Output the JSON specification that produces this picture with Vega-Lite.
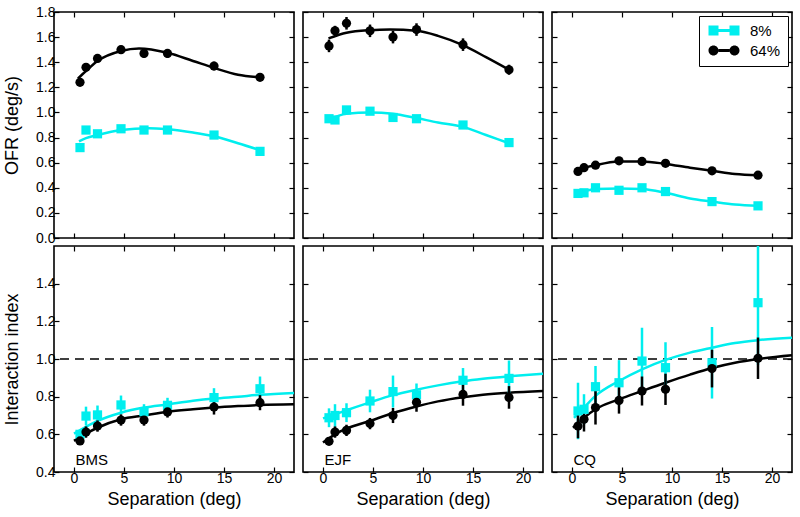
{
  "$schema": "https://vega.github.io/schema/vega-lite/v6.json",
  "padding": {"left": 2, "top": 4, "right": 2, "bottom": 4},
  "columns": 3,
  "spacing": {"row": 8, "column": 9},
  "bounds": "flush",
  "resolve": {"scale": {"color": "independent", "shape": "independent"}},
  "config": {
    "font": "Liberation Sans",
    "view": {"stroke": "black", "strokeWidth": 1.6},
    "axis": {"domain": false, "grid": false, "ticks": true, "tickColor": "black", "tickSize": -5, "tickWidth": 1.2, "labelFontSize": 14, "labelColor": "black", "labelFlush": false, "labelPadding": 4, "titleFontSize": 18, "titleFontWeight": "normal", "titleColor": "black", "titlePadding": 14},
    "axisX": {"titlePadding": 5}
  },
  "datasets": {
    "refline": [{"ref": 1.0}],
    "pts": [
      {"subject":"BMS","measure":"OFR","cond":"8%","sep":0.6,"val":0.72,"err":0.015},
      {"subject":"BMS","measure":"OFR","cond":"8%","sep":1.2,"val":0.86,"err":0.02},
      {"subject":"BMS","measure":"OFR","cond":"8%","sep":2.35,"val":0.83,"err":0.02},
      {"subject":"BMS","measure":"OFR","cond":"8%","sep":4.7,"val":0.87,"err":0.02},
      {"subject":"BMS","measure":"OFR","cond":"8%","sep":7.0,"val":0.86,"err":0.02},
      {"subject":"BMS","measure":"OFR","cond":"8%","sep":9.35,"val":0.86,"err":0.02},
      {"subject":"BMS","measure":"OFR","cond":"8%","sep":14.0,"val":0.82,"err":0.02},
      {"subject":"BMS","measure":"OFR","cond":"8%","sep":18.6,"val":0.69,"err":0.015},
      {"subject":"BMS","measure":"OFR","cond":"64%","sep":0.6,"val":1.24,"err":0.03},
      {"subject":"BMS","measure":"OFR","cond":"64%","sep":1.2,"val":1.36,"err":0.03},
      {"subject":"BMS","measure":"OFR","cond":"64%","sep":2.35,"val":1.43,"err":0.03},
      {"subject":"BMS","measure":"OFR","cond":"64%","sep":4.7,"val":1.5,"err":0.03},
      {"subject":"BMS","measure":"OFR","cond":"64%","sep":7.0,"val":1.47,"err":0.035},
      {"subject":"BMS","measure":"OFR","cond":"64%","sep":9.35,"val":1.47,"err":0.035},
      {"subject":"BMS","measure":"OFR","cond":"64%","sep":14.0,"val":1.37,"err":0.035},
      {"subject":"BMS","measure":"OFR","cond":"64%","sep":18.6,"val":1.28,"err":0.025},
      {"subject":"EJF","measure":"OFR","cond":"8%","sep":0.6,"val":0.95,"err":0.025},
      {"subject":"EJF","measure":"OFR","cond":"8%","sep":1.2,"val":0.94,"err":0.025},
      {"subject":"EJF","measure":"OFR","cond":"8%","sep":2.35,"val":1.02,"err":0.025},
      {"subject":"EJF","measure":"OFR","cond":"8%","sep":4.7,"val":1.01,"err":0.03},
      {"subject":"EJF","measure":"OFR","cond":"8%","sep":7.0,"val":0.96,"err":0.025},
      {"subject":"EJF","measure":"OFR","cond":"8%","sep":9.35,"val":0.95,"err":0.025},
      {"subject":"EJF","measure":"OFR","cond":"8%","sep":14.0,"val":0.9,"err":0.025},
      {"subject":"EJF","measure":"OFR","cond":"8%","sep":18.6,"val":0.76,"err":0.025},
      {"subject":"EJF","measure":"OFR","cond":"64%","sep":0.6,"val":1.53,"err":0.05},
      {"subject":"EJF","measure":"OFR","cond":"64%","sep":1.2,"val":1.65,"err":0.04},
      {"subject":"EJF","measure":"OFR","cond":"64%","sep":2.35,"val":1.71,"err":0.05},
      {"subject":"EJF","measure":"OFR","cond":"64%","sep":4.7,"val":1.65,"err":0.05},
      {"subject":"EJF","measure":"OFR","cond":"64%","sep":7.0,"val":1.6,"err":0.05},
      {"subject":"EJF","measure":"OFR","cond":"64%","sep":9.35,"val":1.66,"err":0.05},
      {"subject":"EJF","measure":"OFR","cond":"64%","sep":14.0,"val":1.54,"err":0.05},
      {"subject":"EJF","measure":"OFR","cond":"64%","sep":18.6,"val":1.34,"err":0.04},
      {"subject":"CQ","measure":"OFR","cond":"8%","sep":0.6,"val":0.355,"err":0.01},
      {"subject":"CQ","measure":"OFR","cond":"8%","sep":1.2,"val":0.36,"err":0.01},
      {"subject":"CQ","measure":"OFR","cond":"8%","sep":2.35,"val":0.4,"err":0.01},
      {"subject":"CQ","measure":"OFR","cond":"8%","sep":4.7,"val":0.38,"err":0.01},
      {"subject":"CQ","measure":"OFR","cond":"8%","sep":7.0,"val":0.4,"err":0.01},
      {"subject":"CQ","measure":"OFR","cond":"8%","sep":9.35,"val":0.37,"err":0.01},
      {"subject":"CQ","measure":"OFR","cond":"8%","sep":14.0,"val":0.29,"err":0.01},
      {"subject":"CQ","measure":"OFR","cond":"8%","sep":18.6,"val":0.256,"err":0.01},
      {"subject":"CQ","measure":"OFR","cond":"64%","sep":0.6,"val":0.53,"err":0.01},
      {"subject":"CQ","measure":"OFR","cond":"64%","sep":1.2,"val":0.56,"err":0.01},
      {"subject":"CQ","measure":"OFR","cond":"64%","sep":2.35,"val":0.58,"err":0.01},
      {"subject":"CQ","measure":"OFR","cond":"64%","sep":4.7,"val":0.615,"err":0.01},
      {"subject":"CQ","measure":"OFR","cond":"64%","sep":7.0,"val":0.61,"err":0.01},
      {"subject":"CQ","measure":"OFR","cond":"64%","sep":9.35,"val":0.595,"err":0.01},
      {"subject":"CQ","measure":"OFR","cond":"64%","sep":14.0,"val":0.535,"err":0.01},
      {"subject":"CQ","measure":"OFR","cond":"64%","sep":18.6,"val":0.5,"err":0.01},
      {"subject":"BMS","measure":"II","cond":"8%","sep":0.6,"val":0.6,"err":0.02},
      {"subject":"BMS","measure":"II","cond":"8%","sep":1.2,"val":0.697,"err":0.05},
      {"subject":"BMS","measure":"II","cond":"8%","sep":2.35,"val":0.703,"err":0.05},
      {"subject":"BMS","measure":"II","cond":"8%","sep":4.7,"val":0.756,"err":0.05},
      {"subject":"BMS","measure":"II","cond":"8%","sep":7.0,"val":0.72,"err":0.04},
      {"subject":"BMS","measure":"II","cond":"8%","sep":9.35,"val":0.754,"err":0.04},
      {"subject":"BMS","measure":"II","cond":"8%","sep":14.0,"val":0.795,"err":0.05},
      {"subject":"BMS","measure":"II","cond":"8%","sep":18.6,"val":0.842,"err":0.065},
      {"subject":"BMS","measure":"II","cond":"64%","sep":0.6,"val":0.565,"err":0.02},
      {"subject":"BMS","measure":"II","cond":"64%","sep":1.2,"val":0.612,"err":0.03},
      {"subject":"BMS","measure":"II","cond":"64%","sep":2.35,"val":0.644,"err":0.03},
      {"subject":"BMS","measure":"II","cond":"64%","sep":4.7,"val":0.676,"err":0.03},
      {"subject":"BMS","measure":"II","cond":"64%","sep":7.0,"val":0.676,"err":0.03},
      {"subject":"BMS","measure":"II","cond":"64%","sep":9.35,"val":0.719,"err":0.03},
      {"subject":"BMS","measure":"II","cond":"64%","sep":14.0,"val":0.745,"err":0.04},
      {"subject":"BMS","measure":"II","cond":"64%","sep":18.6,"val":0.768,"err":0.04},
      {"subject":"EJF","measure":"II","cond":"8%","sep":0.6,"val":0.688,"err":0.05},
      {"subject":"EJF","measure":"II","cond":"8%","sep":1.2,"val":0.7,"err":0.06},
      {"subject":"EJF","measure":"II","cond":"8%","sep":2.35,"val":0.715,"err":0.05},
      {"subject":"EJF","measure":"II","cond":"8%","sep":4.7,"val":0.777,"err":0.06},
      {"subject":"EJF","measure":"II","cond":"8%","sep":7.0,"val":0.827,"err":0.085},
      {"subject":"EJF","measure":"II","cond":"8%","sep":9.35,"val":0.81,"err":0.06},
      {"subject":"EJF","measure":"II","cond":"8%","sep":14.0,"val":0.887,"err":0.065},
      {"subject":"EJF","measure":"II","cond":"8%","sep":18.6,"val":0.897,"err":0.095},
      {"subject":"EJF","measure":"II","cond":"64%","sep":0.6,"val":0.563,"err":0.02},
      {"subject":"EJF","measure":"II","cond":"64%","sep":1.2,"val":0.612,"err":0.03},
      {"subject":"EJF","measure":"II","cond":"64%","sep":2.35,"val":0.621,"err":0.03},
      {"subject":"EJF","measure":"II","cond":"64%","sep":4.7,"val":0.657,"err":0.03},
      {"subject":"EJF","measure":"II","cond":"64%","sep":7.0,"val":0.7,"err":0.04},
      {"subject":"EJF","measure":"II","cond":"64%","sep":9.35,"val":0.77,"err":0.05},
      {"subject":"EJF","measure":"II","cond":"64%","sep":14.0,"val":0.812,"err":0.06},
      {"subject":"EJF","measure":"II","cond":"64%","sep":18.6,"val":0.796,"err":0.06},
      {"subject":"CQ","measure":"II","cond":"8%","sep":0.6,"val":0.724,"err":0.15},
      {"subject":"CQ","measure":"II","cond":"8%","sep":1.2,"val":0.733,"err":0.08},
      {"subject":"CQ","measure":"II","cond":"8%","sep":2.35,"val":0.853,"err":0.11},
      {"subject":"CQ","measure":"II","cond":"8%","sep":4.7,"val":0.874,"err":0.12},
      {"subject":"CQ","measure":"II","cond":"8%","sep":7.0,"val":0.989,"err":0.177},
      {"subject":"CQ","measure":"II","cond":"8%","sep":9.35,"val":0.954,"err":0.135},
      {"subject":"CQ","measure":"II","cond":"8%","sep":14.0,"val":0.98,"err":0.19},
      {"subject":"CQ","measure":"II","cond":"8%","sep":18.6,"val":1.299,"err":0.33},
      {"subject":"CQ","measure":"II","cond":"64%","sep":0.6,"val":0.644,"err":0.065},
      {"subject":"CQ","measure":"II","cond":"64%","sep":1.2,"val":0.68,"err":0.065},
      {"subject":"CQ","measure":"II","cond":"64%","sep":2.35,"val":0.742,"err":0.09},
      {"subject":"CQ","measure":"II","cond":"64%","sep":4.7,"val":0.78,"err":0.07},
      {"subject":"CQ","measure":"II","cond":"64%","sep":7.0,"val":0.83,"err":0.077},
      {"subject":"CQ","measure":"II","cond":"64%","sep":9.35,"val":0.839,"err":0.083},
      {"subject":"CQ","measure":"II","cond":"64%","sep":14.0,"val":0.949,"err":0.1},
      {"subject":"CQ","measure":"II","cond":"64%","sep":18.6,"val":1.004,"err":0.11}
    ],
    "curves": [
      {"subject":"BMS","measure":"OFR","cond":"8%","sep":0.5,"val":0.77},
      {"subject":"BMS","measure":"OFR","cond":"8%","sep":1.2,"val":0.795},
      {"subject":"BMS","measure":"OFR","cond":"8%","sep":2.35,"val":0.82},
      {"subject":"BMS","measure":"OFR","cond":"8%","sep":4.7,"val":0.86},
      {"subject":"BMS","measure":"OFR","cond":"8%","sep":7.5,"val":0.875},
      {"subject":"BMS","measure":"OFR","cond":"8%","sep":9.35,"val":0.866},
      {"subject":"BMS","measure":"OFR","cond":"8%","sep":11.9,"val":0.84},
      {"subject":"BMS","measure":"OFR","cond":"8%","sep":14.0,"val":0.81},
      {"subject":"BMS","measure":"OFR","cond":"8%","sep":16.4,"val":0.755},
      {"subject":"BMS","measure":"OFR","cond":"8%","sep":18.6,"val":0.7},
      {"subject":"BMS","measure":"OFR","cond":"64%","sep":0.4,"val":1.27},
      {"subject":"BMS","measure":"OFR","cond":"64%","sep":1.2,"val":1.33},
      {"subject":"BMS","measure":"OFR","cond":"64%","sep":2.35,"val":1.41},
      {"subject":"BMS","measure":"OFR","cond":"64%","sep":4.7,"val":1.49},
      {"subject":"BMS","measure":"OFR","cond":"64%","sep":6.5,"val":1.51},
      {"subject":"BMS","measure":"OFR","cond":"64%","sep":9.35,"val":1.475},
      {"subject":"BMS","measure":"OFR","cond":"64%","sep":11.9,"val":1.41},
      {"subject":"BMS","measure":"OFR","cond":"64%","sep":14.0,"val":1.355},
      {"subject":"BMS","measure":"OFR","cond":"64%","sep":16.4,"val":1.3},
      {"subject":"BMS","measure":"OFR","cond":"64%","sep":18.6,"val":1.28},
      {"subject":"EJF","measure":"OFR","cond":"8%","sep":0.55,"val":0.94},
      {"subject":"EJF","measure":"OFR","cond":"8%","sep":2.35,"val":0.99},
      {"subject":"EJF","measure":"OFR","cond":"8%","sep":4.7,"val":1.0},
      {"subject":"EJF","measure":"OFR","cond":"8%","sep":7.0,"val":0.99},
      {"subject":"EJF","measure":"OFR","cond":"8%","sep":9.35,"val":0.955},
      {"subject":"EJF","measure":"OFR","cond":"8%","sep":11.5,"val":0.92},
      {"subject":"EJF","measure":"OFR","cond":"8%","sep":14.0,"val":0.885},
      {"subject":"EJF","measure":"OFR","cond":"8%","sep":16.3,"val":0.82},
      {"subject":"EJF","measure":"OFR","cond":"8%","sep":18.6,"val":0.755},
      {"subject":"EJF","measure":"OFR","cond":"64%","sep":0.55,"val":1.59},
      {"subject":"EJF","measure":"OFR","cond":"64%","sep":2.35,"val":1.635},
      {"subject":"EJF","measure":"OFR","cond":"64%","sep":4.7,"val":1.655},
      {"subject":"EJF","measure":"OFR","cond":"64%","sep":6.7,"val":1.66},
      {"subject":"EJF","measure":"OFR","cond":"64%","sep":9.35,"val":1.65},
      {"subject":"EJF","measure":"OFR","cond":"64%","sep":11.5,"val":1.61},
      {"subject":"EJF","measure":"OFR","cond":"64%","sep":14.0,"val":1.536},
      {"subject":"EJF","measure":"OFR","cond":"64%","sep":16.3,"val":1.44},
      {"subject":"EJF","measure":"OFR","cond":"64%","sep":18.6,"val":1.34},
      {"subject":"CQ","measure":"OFR","cond":"8%","sep":0.6,"val":0.355},
      {"subject":"CQ","measure":"OFR","cond":"8%","sep":2.35,"val":0.39},
      {"subject":"CQ","measure":"OFR","cond":"8%","sep":4.7,"val":0.395},
      {"subject":"CQ","measure":"OFR","cond":"8%","sep":7.0,"val":0.39},
      {"subject":"CQ","measure":"OFR","cond":"8%","sep":9.35,"val":0.36},
      {"subject":"CQ","measure":"OFR","cond":"8%","sep":11.8,"val":0.315},
      {"subject":"CQ","measure":"OFR","cond":"8%","sep":14.0,"val":0.29},
      {"subject":"CQ","measure":"OFR","cond":"8%","sep":16.3,"val":0.266},
      {"subject":"CQ","measure":"OFR","cond":"8%","sep":18.6,"val":0.256},
      {"subject":"CQ","measure":"OFR","cond":"64%","sep":0.6,"val":0.53},
      {"subject":"CQ","measure":"OFR","cond":"64%","sep":1.2,"val":0.556},
      {"subject":"CQ","measure":"OFR","cond":"64%","sep":2.35,"val":0.58},
      {"subject":"CQ","measure":"OFR","cond":"64%","sep":4.7,"val":0.61},
      {"subject":"CQ","measure":"OFR","cond":"64%","sep":7.0,"val":0.61},
      {"subject":"CQ","measure":"OFR","cond":"64%","sep":9.35,"val":0.59},
      {"subject":"CQ","measure":"OFR","cond":"64%","sep":11.8,"val":0.56},
      {"subject":"CQ","measure":"OFR","cond":"64%","sep":14.0,"val":0.536},
      {"subject":"CQ","measure":"OFR","cond":"64%","sep":16.3,"val":0.51},
      {"subject":"CQ","measure":"OFR","cond":"64%","sep":18.6,"val":0.5},
      {"subject":"BMS","measure":"II","cond":"8%","sep":0.0,"val":0.604},
      {"subject":"BMS","measure":"II","cond":"8%","sep":1.2,"val":0.64},
      {"subject":"BMS","measure":"II","cond":"8%","sep":2.35,"val":0.671},
      {"subject":"BMS","measure":"II","cond":"8%","sep":4.7,"val":0.715},
      {"subject":"BMS","measure":"II","cond":"8%","sep":7.0,"val":0.742},
      {"subject":"BMS","measure":"II","cond":"8%","sep":9.35,"val":0.759},
      {"subject":"BMS","measure":"II","cond":"8%","sep":11.9,"val":0.778},
      {"subject":"BMS","measure":"II","cond":"8%","sep":14.0,"val":0.79},
      {"subject":"BMS","measure":"II","cond":"8%","sep":16.4,"val":0.8},
      {"subject":"BMS","measure":"II","cond":"8%","sep":18.6,"val":0.81},
      {"subject":"BMS","measure":"II","cond":"8%","sep":22.0,"val":0.82},
      {"subject":"BMS","measure":"II","cond":"64%","sep":0.0,"val":0.565},
      {"subject":"BMS","measure":"II","cond":"64%","sep":1.2,"val":0.604},
      {"subject":"BMS","measure":"II","cond":"64%","sep":2.35,"val":0.635},
      {"subject":"BMS","measure":"II","cond":"64%","sep":4.7,"val":0.68},
      {"subject":"BMS","measure":"II","cond":"64%","sep":7.0,"val":0.7},
      {"subject":"BMS","measure":"II","cond":"64%","sep":9.35,"val":0.72},
      {"subject":"BMS","measure":"II","cond":"64%","sep":11.9,"val":0.733},
      {"subject":"BMS","measure":"II","cond":"64%","sep":14.0,"val":0.742},
      {"subject":"BMS","measure":"II","cond":"64%","sep":16.4,"val":0.75},
      {"subject":"BMS","measure":"II","cond":"64%","sep":18.6,"val":0.756},
      {"subject":"BMS","measure":"II","cond":"64%","sep":22.0,"val":0.76},
      {"subject":"EJF","measure":"II","cond":"8%","sep":0.0,"val":0.685},
      {"subject":"EJF","measure":"II","cond":"8%","sep":1.2,"val":0.706},
      {"subject":"EJF","measure":"II","cond":"8%","sep":2.35,"val":0.728},
      {"subject":"EJF","measure":"II","cond":"8%","sep":4.7,"val":0.77},
      {"subject":"EJF","measure":"II","cond":"8%","sep":7.0,"val":0.808},
      {"subject":"EJF","measure":"II","cond":"8%","sep":9.35,"val":0.837},
      {"subject":"EJF","measure":"II","cond":"8%","sep":11.5,"val":0.86},
      {"subject":"EJF","measure":"II","cond":"8%","sep":14.0,"val":0.882},
      {"subject":"EJF","measure":"II","cond":"8%","sep":16.0,"val":0.895},
      {"subject":"EJF","measure":"II","cond":"8%","sep":18.6,"val":0.908},
      {"subject":"EJF","measure":"II","cond":"8%","sep":22.0,"val":0.922},
      {"subject":"EJF","measure":"II","cond":"64%","sep":0.0,"val":0.556},
      {"subject":"EJF","measure":"II","cond":"64%","sep":1.2,"val":0.6},
      {"subject":"EJF","measure":"II","cond":"64%","sep":2.35,"val":0.63},
      {"subject":"EJF","measure":"II","cond":"64%","sep":4.7,"val":0.671},
      {"subject":"EJF","measure":"II","cond":"64%","sep":7.0,"val":0.713},
      {"subject":"EJF","measure":"II","cond":"64%","sep":9.35,"val":0.748},
      {"subject":"EJF","measure":"II","cond":"64%","sep":11.5,"val":0.775},
      {"subject":"EJF","measure":"II","cond":"64%","sep":14.0,"val":0.797},
      {"subject":"EJF","measure":"II","cond":"64%","sep":16.0,"val":0.81},
      {"subject":"EJF","measure":"II","cond":"64%","sep":18.6,"val":0.821},
      {"subject":"EJF","measure":"II","cond":"64%","sep":22.0,"val":0.83},
      {"subject":"CQ","measure":"II","cond":"8%","sep":0.2,"val":0.688},
      {"subject":"CQ","measure":"II","cond":"8%","sep":1.2,"val":0.742},
      {"subject":"CQ","measure":"II","cond":"8%","sep":2.35,"val":0.804},
      {"subject":"CQ","measure":"II","cond":"8%","sep":4.7,"val":0.883},
      {"subject":"CQ","measure":"II","cond":"8%","sep":7.0,"val":0.945},
      {"subject":"CQ","measure":"II","cond":"8%","sep":9.35,"val":0.995},
      {"subject":"CQ","measure":"II","cond":"8%","sep":11.8,"val":1.034},
      {"subject":"CQ","measure":"II","cond":"8%","sep":14.0,"val":1.06},
      {"subject":"CQ","measure":"II","cond":"8%","sep":16.3,"val":1.085},
      {"subject":"CQ","measure":"II","cond":"8%","sep":18.6,"val":1.1},
      {"subject":"CQ","measure":"II","cond":"8%","sep":22.0,"val":1.113},
      {"subject":"CQ","measure":"II","cond":"64%","sep":0.1,"val":0.635},
      {"subject":"CQ","measure":"II","cond":"64%","sep":1.2,"val":0.688},
      {"subject":"CQ","measure":"II","cond":"64%","sep":2.35,"val":0.733},
      {"subject":"CQ","measure":"II","cond":"64%","sep":4.7,"val":0.786},
      {"subject":"CQ","measure":"II","cond":"64%","sep":7.0,"val":0.83},
      {"subject":"CQ","measure":"II","cond":"64%","sep":9.35,"val":0.874},
      {"subject":"CQ","measure":"II","cond":"64%","sep":11.8,"val":0.917},
      {"subject":"CQ","measure":"II","cond":"64%","sep":14.0,"val":0.952},
      {"subject":"CQ","measure":"II","cond":"64%","sep":16.3,"val":0.98},
      {"subject":"CQ","measure":"II","cond":"64%","sep":18.6,"val":1.0},
      {"subject":"CQ","measure":"II","cond":"64%","sep":22.0,"val":1.02}
    ]
  },
  "concat": [
    {
      "width": 240, "height": 226,
      "resolve": {"axis": {"x": "independent", "y": "independent"}},
      "layer": [
        {"data": {"name": "curves"}, "transform": [{"filter": "datum.subject == 'BMS' && datum.measure == 'OFR'"}],
         "mark": {"type": "line", "strokeWidth": 2.5, "interpolate": "monotone"},
         "encoding": {
           "x": {"field": "sep", "type": "quantitative", "scale": {"domain": [-1, 22]}, "axis": {"orient": "bottom", "values": [0,5,10,15,20], "labels": false, "title": null}},
           "y": {"field": "val", "type": "quantitative", "scale": {"domain": [0, 1.8]}, "axis": {"orient": "left", "values": [0,0.2,0.4,0.6,0.8,1,1.2,1.4,1.6,1.8], "format": ".1f", "title": "OFR (deg/s)"}},
           "color": {"field": "cond", "type": "nominal", "scale": {"domain": ["8%","64%"], "range": ["#00EEEE","black"]}, "legend": null}}},
        {"data": {"name": "pts"}, "transform": [{"filter": "datum.subject == 'BMS' && datum.measure == 'OFR'"}],
         "mark": {"type": "errorbar", "thickness": 2.5, "clip": true},
         "encoding": {
           "x": {"field": "sep", "type": "quantitative", "axis": null},
           "y": {"field": "val", "type": "quantitative", "axis": null},
           "yError": {"field": "err"},
           "color": {"field": "cond", "type": "nominal", "scale": {"domain": ["8%","64%"], "range": ["#00EEEE","black"]}, "legend": null}}},
        {"data": {"name": "pts"}, "transform": [{"filter": "datum.subject == 'BMS' && datum.measure == 'OFR'"}],
         "mark": {"type": "point", "filled": true, "size": 85, "opacity": 1, "strokeWidth": 0},
         "encoding": {
           "x": {"field": "sep", "type": "quantitative", "axis": {"orient": "top", "values": [0,5,10,15,20], "labels": false, "title": null}},
           "y": {"field": "val", "type": "quantitative", "axis": {"orient": "right", "values": [0,0.2,0.4,0.6,0.8,1,1.2,1.4,1.6,1.8], "labels": false, "title": null}},
           "color": {"field": "cond", "type": "nominal", "scale": {"domain": ["8%","64%"], "range": ["#00EEEE","black"]}, "legend": null},
           "shape": {"field": "cond", "type": "nominal", "scale": {"domain": ["8%","64%"], "range": ["square","circle"]}, "legend": null}}}
      ]
    },
    {
      "width": 240, "height": 226,
      "resolve": {"axis": {"x": "independent", "y": "independent"}},
      "layer": [
        {"data": {"name": "curves"}, "transform": [{"filter": "datum.subject == 'EJF' && datum.measure == 'OFR'"}],
         "mark": {"type": "line", "strokeWidth": 2.5, "interpolate": "monotone"},
         "encoding": {
           "x": {"field": "sep", "type": "quantitative", "scale": {"domain": [-1, 22]}, "axis": {"orient": "bottom", "values": [0,5,10,15,20], "labels": false, "title": null}},
           "y": {"field": "val", "type": "quantitative", "scale": {"domain": [0, 1.8]}, "axis": {"orient": "left", "values": [0,0.2,0.4,0.6,0.8,1,1.2,1.4,1.6,1.8], "labels": false, "title": null}},
           "color": {"field": "cond", "type": "nominal", "scale": {"domain": ["8%","64%"], "range": ["#00EEEE","black"]}, "legend": null}}},
        {"data": {"name": "pts"}, "transform": [{"filter": "datum.subject == 'EJF' && datum.measure == 'OFR'"}],
         "mark": {"type": "errorbar", "thickness": 2.5, "clip": true},
         "encoding": {
           "x": {"field": "sep", "type": "quantitative", "axis": null},
           "y": {"field": "val", "type": "quantitative", "axis": null},
           "yError": {"field": "err"},
           "color": {"field": "cond", "type": "nominal", "scale": {"domain": ["8%","64%"], "range": ["#00EEEE","black"]}, "legend": null}}},
        {"data": {"name": "pts"}, "transform": [{"filter": "datum.subject == 'EJF' && datum.measure == 'OFR'"}],
         "mark": {"type": "point", "filled": true, "size": 85, "opacity": 1, "strokeWidth": 0},
         "encoding": {
           "x": {"field": "sep", "type": "quantitative", "axis": {"orient": "top", "values": [0,5,10,15,20], "labels": false, "title": null}},
           "y": {"field": "val", "type": "quantitative", "axis": {"orient": "right", "values": [0,0.2,0.4,0.6,0.8,1,1.2,1.4,1.6,1.8], "labels": false, "title": null}},
           "color": {"field": "cond", "type": "nominal", "scale": {"domain": ["8%","64%"], "range": ["#00EEEE","black"]}, "legend": null},
           "shape": {"field": "cond", "type": "nominal", "scale": {"domain": ["8%","64%"], "range": ["square","circle"]}, "legend": null}}}
      ]
    },
    {
      "width": 240, "height": 226,
      "resolve": {"axis": {"x": "independent", "y": "independent"}, "scale": {"color": "independent", "shape": "independent"}},
      "layer": [
        {"data": {"name": "curves"}, "transform": [{"filter": "datum.subject == 'CQ' && datum.measure == 'OFR'"}],
         "mark": {"type": "line", "strokeWidth": 2.5, "interpolate": "monotone"},
         "encoding": {
           "x": {"field": "sep", "type": "quantitative", "scale": {"domain": [-1, 22]}, "axis": {"orient": "bottom", "values": [0,5,10,15,20], "labels": false, "title": null}},
           "y": {"field": "val", "type": "quantitative", "scale": {"domain": [0, 1.8]}, "axis": {"orient": "left", "values": [0,0.2,0.4,0.6,0.8,1,1.2,1.4,1.6,1.8], "labels": false, "title": null}},
           "color": {"field": "cond", "type": "nominal", "scale": {"domain": ["8%","64%"], "range": ["#00EEEE","black"]}, "legend": null}}},
        {"data": {"name": "pts"}, "transform": [{"filter": "datum.subject == 'CQ' && datum.measure == 'OFR'"}],
         "mark": {"type": "errorbar", "thickness": 2.5, "clip": true},
         "encoding": {
           "x": {"field": "sep", "type": "quantitative", "axis": null},
           "y": {"field": "val", "type": "quantitative", "axis": null},
           "yError": {"field": "err"},
           "color": {"field": "cond", "type": "nominal", "scale": {"domain": ["8%","64%"], "range": ["#00EEEE","black"]}, "legend": null}}},
        {"data": {"name": "pts"}, "transform": [{"filter": "datum.subject == 'CQ' && datum.measure == 'OFR'"}],
         "mark": {"type": "point", "filled": true, "size": 85, "opacity": 1, "strokeWidth": 0},
         "encoding": {
           "x": {"field": "sep", "type": "quantitative", "axis": {"orient": "top", "values": [0,5,10,15,20], "labels": false, "title": null}},
           "y": {"field": "val", "type": "quantitative", "axis": {"orient": "right", "values": [0,0.2,0.4,0.6,0.8,1,1.2,1.4,1.6,1.8], "labels": false, "title": null}},
           "color": {"field": "cond", "type": "nominal", "scale": {"domain": ["8%","64%"], "range": ["#00EEEE","black"]}, "legend": null},
           "shape": {"field": "cond", "type": "nominal", "scale": {"domain": ["8%","64%"], "range": ["square","circle"]}, "legend": null}}},
        {"data": {"name": "pts"}, "transform": [{"filter": "datum.sep < -50"}],
         "mark": {"type": "point", "filled": true, "opacity": 1},
         "encoding": {
           "x": {"field": "sep", "type": "quantitative", "axis": null},
           "y": {"field": "val", "type": "quantitative", "axis": null},
           "color": {"field": "cond", "type": "nominal", "scale": {"domain": ["8%","64%"], "range": ["#00EEEE","black"]},
             "legend": {"title": null, "orient": "top-right", "offset": 4, "padding": 7, "strokeColor": "black", "fillColor": "white", "labelFontSize": 15, "labelColor": "black", "symbolSize": 100, "labelOffset": 29, "rowPadding": 4, "symbolStrokeWidth": 0}},
           "shape": {"field": "cond", "type": "nominal", "scale": {"domain": ["8%","64%"], "range": ["M-1,-1H1V1H-1Z M3.2,-1H5.2V1H3.2Z M1,-0.3H3.2V0.3H1Z", "M1,0A1,1 0 1,1 -1,0A1,1 0 1,1 1,0Z M5.2,0A1,1 0 1,1 3.2,0A1,1 0 1,1 5.2,0Z M1,-0.3H3.2V0.3H1Z"]},
             "legend": {"title": null, "orient": "top-right", "offset": 4, "padding": 7, "strokeColor": "black", "fillColor": "white", "labelFontSize": 15, "labelColor": "black", "symbolSize": 100, "labelOffset": 29, "rowPadding": 4, "symbolStrokeWidth": 0}}}}
      ]
    },
    {
      "width": 240, "height": 226,
      "resolve": {"axis": {"x": "independent", "y": "independent"}},
      "layer": [
        {"data": {"name": "refline"},
         "mark": {"type": "rule", "strokeDash": [9, 6], "strokeWidth": 1.5, "color": "black"},
         "encoding": {"y": {"field": "ref", "type": "quantitative", "scale": {"domain": [0.4, 1.6], "zero": false}, "axis": null}}},
        {"data": {"name": "curves"}, "transform": [{"filter": "datum.subject == 'BMS' && datum.measure == 'II'"}],
         "mark": {"type": "line", "strokeWidth": 2.5, "interpolate": "monotone"},
         "encoding": {
           "x": {"field": "sep", "type": "quantitative", "scale": {"domain": [-1, 22]}, "axis": {"orient": "bottom", "values": [0,5,10,15,20], "title": "Separation (deg)"}},
           "y": {"field": "val", "type": "quantitative", "scale": {"domain": [0.4, 1.6], "zero": false}, "axis": {"orient": "left", "values": [0.4,0.6,0.8,1,1.2,1.4], "format": ".1f", "title": "Interaction index"}},
           "color": {"field": "cond", "type": "nominal", "scale": {"domain": ["8%","64%"], "range": ["#00EEEE","black"]}, "legend": null}}},
        {"data": {"name": "pts"}, "transform": [{"filter": "datum.subject == 'BMS' && datum.measure == 'II'"}],
         "mark": {"type": "errorbar", "thickness": 2.5, "clip": true},
         "encoding": {
           "x": {"field": "sep", "type": "quantitative", "axis": null},
           "y": {"field": "val", "type": "quantitative", "axis": null},
           "yError": {"field": "err"},
           "color": {"field": "cond", "type": "nominal", "scale": {"domain": ["8%","64%"], "range": ["#00EEEE","black"]}, "legend": null}}},
        {"data": {"name": "pts"}, "transform": [{"filter": "datum.subject == 'BMS' && datum.measure == 'II'"}],
         "mark": {"type": "point", "filled": true, "size": 85, "opacity": 1, "strokeWidth": 0},
         "encoding": {
           "x": {"field": "sep", "type": "quantitative", "axis": {"orient": "top", "values": [0,5,10,15,20], "labels": false, "title": null}},
           "y": {"field": "val", "type": "quantitative", "axis": {"orient": "right", "values": [0.4,0.6,0.8,1,1.2,1.4], "labels": false, "title": null}},
           "color": {"field": "cond", "type": "nominal", "scale": {"domain": ["8%","64%"], "range": ["#00EEEE","black"]}, "legend": null},
           "shape": {"field": "cond", "type": "nominal", "scale": {"domain": ["8%","64%"], "range": ["square","circle"]}, "legend": null}}},
        {"data": {"values": [{"label": "BMS"}]},
         "mark": {"type": "text", "align": "left", "baseline": "alphabetic", "fontSize": 15, "color": "black"},
         "encoding": {"x": {"datum": 0.15, "type": "quantitative", "axis": null}, "y": {"datum": 0.437, "type": "quantitative", "axis": null}, "text": {"field": "label"}}}
      ]
    },
    {
      "width": 240, "height": 226,
      "resolve": {"axis": {"x": "independent", "y": "independent"}},
      "layer": [
        {"data": {"name": "refline"},
         "mark": {"type": "rule", "strokeDash": [9, 6], "strokeWidth": 1.5, "color": "black"},
         "encoding": {"y": {"field": "ref", "type": "quantitative", "scale": {"domain": [0.4, 1.6], "zero": false}, "axis": null}}},
        {"data": {"name": "curves"}, "transform": [{"filter": "datum.subject == 'EJF' && datum.measure == 'II'"}],
         "mark": {"type": "line", "strokeWidth": 2.5, "interpolate": "monotone"},
         "encoding": {
           "x": {"field": "sep", "type": "quantitative", "scale": {"domain": [-1, 22]}, "axis": {"orient": "bottom", "values": [0,5,10,15,20], "title": "Separation (deg)"}},
           "y": {"field": "val", "type": "quantitative", "scale": {"domain": [0.4, 1.6], "zero": false}, "axis": {"orient": "left", "values": [0.4,0.6,0.8,1,1.2,1.4], "labels": false, "title": null}},
           "color": {"field": "cond", "type": "nominal", "scale": {"domain": ["8%","64%"], "range": ["#00EEEE","black"]}, "legend": null}}},
        {"data": {"name": "pts"}, "transform": [{"filter": "datum.subject == 'EJF' && datum.measure == 'II'"}],
         "mark": {"type": "errorbar", "thickness": 2.5, "clip": true},
         "encoding": {
           "x": {"field": "sep", "type": "quantitative", "axis": null},
           "y": {"field": "val", "type": "quantitative", "axis": null},
           "yError": {"field": "err"},
           "color": {"field": "cond", "type": "nominal", "scale": {"domain": ["8%","64%"], "range": ["#00EEEE","black"]}, "legend": null}}},
        {"data": {"name": "pts"}, "transform": [{"filter": "datum.subject == 'EJF' && datum.measure == 'II'"}],
         "mark": {"type": "point", "filled": true, "size": 85, "opacity": 1, "strokeWidth": 0},
         "encoding": {
           "x": {"field": "sep", "type": "quantitative", "axis": {"orient": "top", "values": [0,5,10,15,20], "labels": false, "title": null}},
           "y": {"field": "val", "type": "quantitative", "axis": {"orient": "right", "values": [0.4,0.6,0.8,1,1.2,1.4], "labels": false, "title": null}},
           "color": {"field": "cond", "type": "nominal", "scale": {"domain": ["8%","64%"], "range": ["#00EEEE","black"]}, "legend": null},
           "shape": {"field": "cond", "type": "nominal", "scale": {"domain": ["8%","64%"], "range": ["square","circle"]}, "legend": null}}},
        {"data": {"values": [{"label": "EJF"}]},
         "mark": {"type": "text", "align": "left", "baseline": "alphabetic", "fontSize": 15, "color": "black"},
         "encoding": {"x": {"datum": 0.15, "type": "quantitative", "axis": null}, "y": {"datum": 0.437, "type": "quantitative", "axis": null}, "text": {"field": "label"}}}
      ]
    },
    {
      "width": 240, "height": 226,
      "resolve": {"axis": {"x": "independent", "y": "independent"}},
      "layer": [
        {"data": {"name": "refline"},
         "mark": {"type": "rule", "strokeDash": [9, 6], "strokeWidth": 1.5, "color": "black"},
         "encoding": {"y": {"field": "ref", "type": "quantitative", "scale": {"domain": [0.4, 1.6], "zero": false}, "axis": null}}},
        {"data": {"name": "curves"}, "transform": [{"filter": "datum.subject == 'CQ' && datum.measure == 'II'"}],
         "mark": {"type": "line", "strokeWidth": 2.5, "interpolate": "monotone"},
         "encoding": {
           "x": {"field": "sep", "type": "quantitative", "scale": {"domain": [-1, 22]}, "axis": {"orient": "bottom", "values": [0,5,10,15,20], "title": "Separation (deg)"}},
           "y": {"field": "val", "type": "quantitative", "scale": {"domain": [0.4, 1.6], "zero": false}, "axis": {"orient": "left", "values": [0.4,0.6,0.8,1,1.2,1.4], "labels": false, "title": null}},
           "color": {"field": "cond", "type": "nominal", "scale": {"domain": ["8%","64%"], "range": ["#00EEEE","black"]}, "legend": null}}},
        {"data": {"name": "pts"}, "transform": [{"filter": "datum.subject == 'CQ' && datum.measure == 'II'"}],
         "mark": {"type": "errorbar", "thickness": 2.5, "clip": true},
         "encoding": {
           "x": {"field": "sep", "type": "quantitative", "axis": null},
           "y": {"field": "val", "type": "quantitative", "axis": null},
           "yError": {"field": "err"},
           "color": {"field": "cond", "type": "nominal", "scale": {"domain": ["8%","64%"], "range": ["#00EEEE","black"]}, "legend": null}}},
        {"data": {"name": "pts"}, "transform": [{"filter": "datum.subject == 'CQ' && datum.measure == 'II'"}],
         "mark": {"type": "point", "filled": true, "size": 85, "opacity": 1, "strokeWidth": 0, "clip": true},
         "encoding": {
           "x": {"field": "sep", "type": "quantitative", "axis": {"orient": "top", "values": [0,5,10,15,20], "labels": false, "title": null}},
           "y": {"field": "val", "type": "quantitative", "axis": {"orient": "right", "values": [0.4,0.6,0.8,1,1.2,1.4], "labels": false, "title": null}},
           "color": {"field": "cond", "type": "nominal", "scale": {"domain": ["8%","64%"], "range": ["#00EEEE","black"]}, "legend": null},
           "shape": {"field": "cond", "type": "nominal", "scale": {"domain": ["8%","64%"], "range": ["square","circle"]}, "legend": null}}},
        {"data": {"values": [{"label": "CQ"}]},
         "mark": {"type": "text", "align": "left", "baseline": "alphabetic", "fontSize": 15, "color": "black"},
         "encoding": {"x": {"datum": 0.15, "type": "quantitative", "axis": null}, "y": {"datum": 0.437, "type": "quantitative", "axis": null}, "text": {"field": "label"}}}
      ]
    }
  ]
}
